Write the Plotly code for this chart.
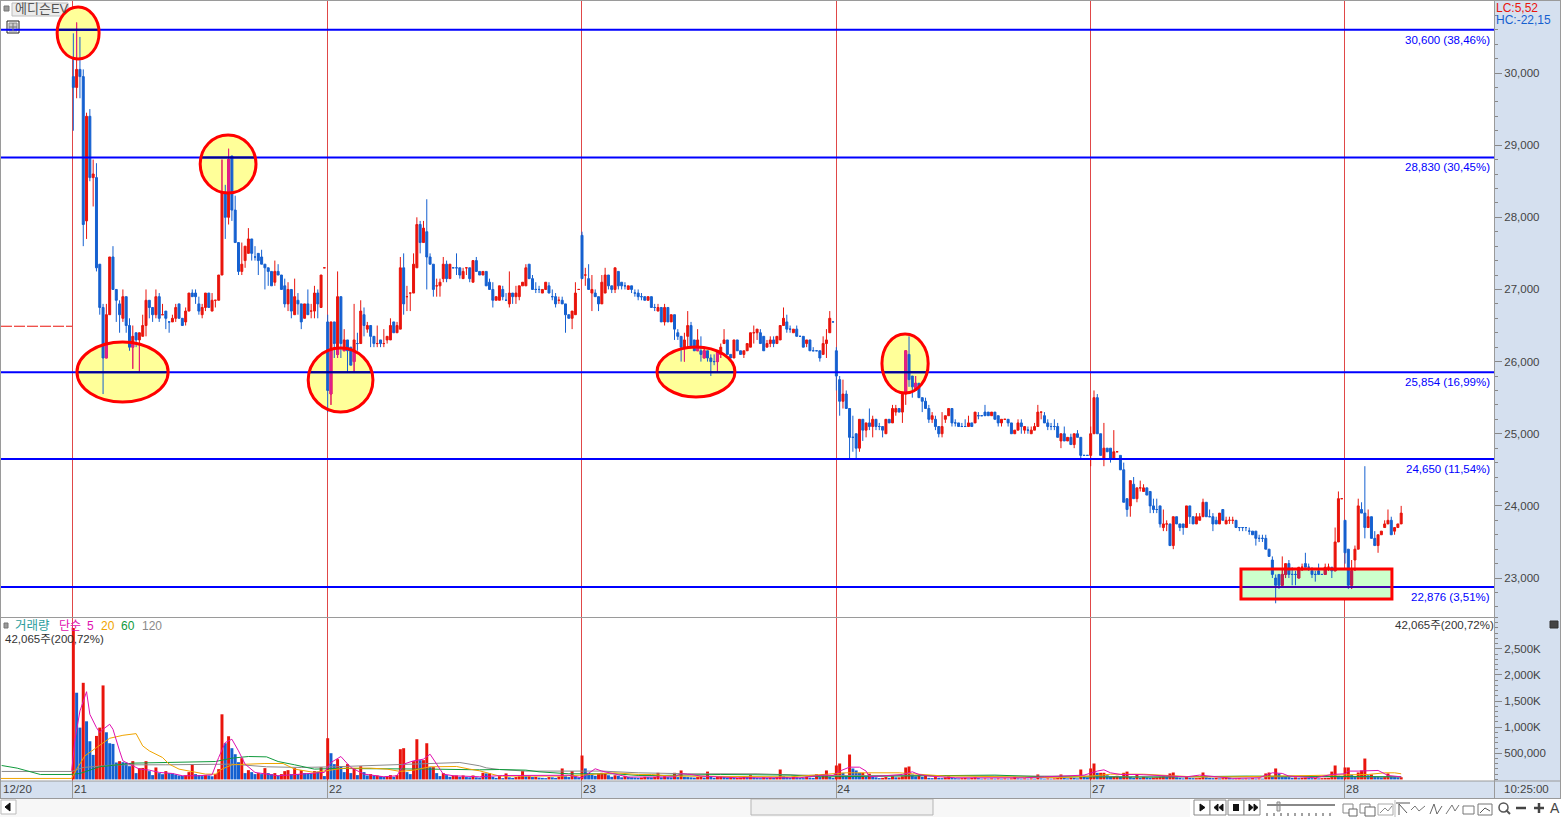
import math
import plotly.graph_objects as go

W, H = 1561, 817

open_ = [
 29950,29800,30050,29950,27950,29400,28550,28550,27350,26750,
 26050,26650,27450,27000,26800,26600,26900,26500,26200,26400,
 26300,26350,26500,26850,26750,26650,26900,26650,26700,26550,
 26550,26600,26800,26600,26550,26700,26950,26950,26800,26650,
 26750,26950,26700,26850,26850,27200,28350,28000,28850,28100,
 27650,27250,27400,27500,27700,27450,27500,27450,27350,27300,
 27250,27100,27250,27200,27050,26800,27000,26650,26850,26800,
 26600,26800,26700,26700,26950,26750,27300,
 26550,25550,26550,26100,26900,26150,26300,26200,26000,26250,
 26250,26650,26450,26500,26350,26250,26300,26250,26300,26300,
 26550,26400,26450,27300,26900,26950,26950,27300,27900,27650,
 27800,27450,27350,27050,27050,27150,27350,27150,27300,27300,
 27300,27150,27300,27300,27100,27400,27250,27200,27250,27100,
 27000,26850,26850,27000,26850,26800,26950,26900,26900,27050,
 27050,27350,27150,27000,27000,26950,27000,27050,26900,26900,
 26850,26850,26800,26650,26600,26650,27000,
 27750,27200,27150,26950,26950,26900,26800,26950,27200,27050,
 27000,27250,27100,27050,27000,27050,26950,26950,26900,26900,
 26850,26900,26750,26700,26750,26550,26750,26550,26650,26400,
 26350,26200,26350,26500,26300,26150,26150,26050,26150,26050,
 26000,26000,26100,26250,26300,26100,26050,26300,26150,26100,
 26150,26200,26400,26400,26400,26350,26200,26250,26300,26250,
 26300,26500,26550,26450,26400,26450,26350,26350,26250,26300,
 26150,26150,26150,26100,26250,26400,26550,
 26150,25750,25450,25550,25350,24950,25000,24800,25200,25050,
 25150,25100,25200,25100,25100,25000,25200,25150,25300,25350,
 25300,25550,26100,25800,25600,25700,25500,25450,25350,25200,
 25200,25100,25000,25200,25250,25350,25150,25150,25100,25100,
 25100,25150,25150,25250,25250,25300,25300,25250,25300,25250,
 25150,25200,25200,25150,25000,25050,25150,25050,25050,25000,
 25050,25100,25300,25250,25150,25100,25100,25100,24900,25000,
 24900,24950,24850,25000,24950,24700,24700,
 24700,25000,25500,25000,24650,24800,24800,24650,24750,24700,
 24500,24100,24000,24300,24100,24250,24200,24250,24200,24000,
 23950,24000,23700,23750,23750,23450,23850,23750,23750,23700,
 24000,23850,23750,23800,23850,24050,23850,23850,23800,23750,
 23950,23750,23800,23800,23800,23700,23700,23700,23650,23650,
 23650,23550,23550,23550,23400,23250,23000,23050,22900,23050,
 23200,23050,23050,23000,23150,23200,23150,23100,23050,23100,
 23050,23050,23150,23150,23100,23500,24100,23800,23400,22900,
 23250,23400,23950,23900,23700,23850,23550,23450,23600,23700,
 23750,23800,23650,23700,23750]

close_ = [
 29800,30050,29950,27900,29400,28550,28600,27300,26750,26050,
 26650,27450,27000,26850,26650,26900,26500,26200,26350,26300,
 26400,26500,26850,26750,26650,26900,26600,26650,26600,26550,
 26600,26750,26600,26500,26700,26950,26900,26900,26700,26750,
 26950,26750,26850,26850,27200,28350,28000,28800,28100,27650,
 27250,27350,27600,27700,27500,27450,27400,27350,27300,27250,
 27050,27250,27200,27000,26800,27000,26700,26900,26800,26550,
 26800,26650,26700,26950,26800,27200,27300,
 25600,26550,26250,26900,26250,26300,26150,25950,26300,26250,
 26700,26500,26500,26350,26250,26250,26250,26250,26350,26500,
 26400,26500,27300,26800,26900,26950,27350,27900,27650,27850,
 27450,27350,27000,27050,27100,27350,27150,27350,27300,27300,
 27200,27250,27300,27150,27400,27250,27200,27250,27050,27000,
 26850,26900,27050,26900,26850,26950,26900,26950,27050,27100,
 27300,27150,27000,27000,27000,27000,27100,26950,26900,26800,
 26850,26800,26650,26600,26700,26950,27000,
 27150,27200,27000,27000,26900,26800,27100,27200,27050,27000,
 27300,27050,27050,27050,27050,27000,26950,26900,26900,26850,
 26900,26750,26750,26750,26550,26750,26550,26650,26450,26350,
 26200,26300,26500,26200,26150,26300,26100,26150,26050,26000,
 26000,26150,26200,26300,26100,26050,26300,26150,26100,26150,
 26250,26400,26400,26450,26250,26150,26250,26300,26250,26350,
 26500,26600,26450,26450,26450,26350,26350,26200,26300,26150,
 26150,26150,26050,26250,26300,26600,26550,
 25800,25450,25550,25350,24950,24950,24800,25200,25050,25150,
 25100,25200,25100,25100,25050,25200,25150,25350,25350,25300,
 25550,26150,25750,25650,25700,25500,25450,25350,25200,25250,
 25100,25000,25100,25250,25350,25150,25150,25100,25100,25100,
 25150,25100,25300,25250,25250,25250,25250,25300,25200,25150,
 25200,25200,25150,25000,25050,25150,25100,25100,25050,25050,
 25100,25300,25300,25150,25100,25100,25100,24950,25000,24900,
 24950,24850,25000,24950,24700,24700,24700,
 25000,25500,25000,24700,24800,24750,24650,24750,24750,24500,
 24050,23950,24350,24100,24250,24250,24250,24150,24000,23950,
 23950,23750,23750,23750,23450,23850,23750,23700,23700,24000,
 23850,23750,23850,23850,24050,23850,23850,23750,23750,23900,
 23800,23800,23800,23800,23700,23700,23700,23700,23650,23600,
 23550,23550,23550,23400,23300,23050,22900,22900,23050,23200,
 23050,23050,23050,23150,23150,23150,23150,23050,23050,23050,
 23050,23150,23150,23100,23500,24100,24100,23350,22900,23100,
 23400,24000,23900,23700,23850,23550,23450,23600,23650,23750,
 23800,23600,23700,23750,23900]

high_ = [
 30550,30700,30500,30050,29450,29500,28800,28750,27350,26800,
 26800,27450,27600,27000,26850,27000,26900,26600,26500,26400,
 26400,26650,27000,26850,26750,27000,26950,26800,26700,26550,
 26650,26800,26800,26600,26750,26950,27000,27000,26900,26800,
 26950,26950,26950,26850,27200,28800,28450,28950,28850,28300,
 27650,27650,27600,27850,27700,27600,27500,27550,27350,27300,
 27250,27400,27350,27200,27150,27100,27000,27150,26950,26800,
 26800,27000,26800,27050,27000,27200,27300,
 26650,26550,26550,27250,26900,26450,26300,26200,26800,26400,
 26850,26750,26550,26500,26350,26500,26300,26450,26350,26600,
 26550,26550,27450,27500,27050,26950,27500,28000,27950,27950,
 28250,27500,27350,27150,27150,27450,27400,27350,27300,27500,
 27300,27300,27300,27300,27400,27450,27250,27250,27250,27150,
 27100,26900,27050,27050,26950,27250,26950,27050,27050,27100,
 27350,27350,27200,27100,27050,27000,27100,27100,27000,26950,
 26900,26900,26800,26650,26700,27100,27000,
 27800,27300,27350,27200,27000,26900,27200,27300,27200,27050,
 27300,27250,27100,27100,27050,27050,27000,27000,26950,26900,
 26900,26900,26800,26800,26750,26800,26750,26650,26650,26450,
 26350,26400,26700,26550,26300,26450,26350,26200,26150,26100,
 26100,26150,26250,26450,26300,26100,26300,26300,26150,26150,
 26250,26400,26500,26450,26450,26350,26300,26350,26350,26350,
 26500,26750,26650,26500,26450,26500,26350,26350,26300,26300,
 26200,26150,26150,26350,26450,26700,26550,
 26200,25800,25750,25600,25350,25250,25000,25200,25200,25150,
 25350,25250,25200,25150,25100,25200,25200,25400,25400,25350,
 25550,26150,26350,25800,25800,25700,25500,25500,25400,25300,
 25250,25100,25300,25250,25350,25350,25200,25150,25150,25200,
 25250,25150,25300,25300,25250,25400,25300,25300,25300,25250,
 25200,25200,25200,25150,25050,25200,25200,25100,25100,25100,
 25150,25400,25300,25300,25200,25150,25200,25150,25000,25100,
 24950,25000,25000,25050,24950,24700,24700,
 25100,25600,25550,25000,25150,24800,24800,25050,24750,24700,
 24600,24100,24350,24400,24250,24350,24300,24250,24200,24100,
 24100,24000,23950,23800,23750,23850,23850,23750,23750,24000,
 24000,23850,23900,23900,24100,24050,23950,23900,23850,23900,
 23950,23850,23850,23850,23800,23700,23700,23700,23700,23650,
 23650,23600,23600,23600,23400,23300,23050,23050,23300,23200,
 23250,23150,23100,23150,23200,23350,23200,23150,23100,23200,
 23050,23200,23200,23150,23700,24200,24100,23800,23400,23250,
 23450,24100,24050,24550,23950,23850,23650,23600,23650,23800,
 23950,23850,23700,23750,24000]

low_ = [
 29200,29650,29650,27600,27700,28500,28150,27250,26650,25550,
 26050,26650,27000,26550,26400,26550,26400,26150,25900,26200,
 25850,26350,26350,26600,26550,26600,26550,26650,26450,26400,
 26550,26550,26600,26500,26500,26700,26900,26800,26650,26600,
 26700,26750,26700,26750,26850,27200,27700,27900,27950,27650,
 27200,27200,27300,27500,27400,27400,27200,27350,27000,27050,
 27050,27050,27200,27000,26750,26700,26600,26650,26650,26450,
 26600,26650,26600,26600,26600,26750,27300,
 25300,25400,26050,26050,26050,26150,25850,25950,25850,26150,
 26250,26350,26400,26200,26200,26200,26200,26200,26250,26300,
 26400,26400,26450,26650,26700,26700,26950,27300,27500,27650,
 27000,27350,26900,26900,26900,27100,27100,27150,27300,27200,
 27150,27150,27200,27100,27100,27250,27200,27200,27050,27000,
 26750,26850,26850,26850,26850,26750,26800,26800,26850,27050,
 27050,27150,27000,26950,26950,26950,27000,26950,26850,26750,
 26800,26800,26400,26600,26450,26650,27000,
 27150,27050,27000,26700,26900,26700,26800,26950,27000,26950,
 26950,27000,27000,27000,27000,26950,26900,26850,26850,26850,
 26850,26750,26700,26700,26550,26500,26550,26550,26300,26300,
 26000,26000,26200,26200,26150,26150,26000,26050,26000,25800,
 25950,25850,26050,26250,26100,26050,26050,26150,26100,26050,
 26150,26200,26250,26300,26250,26150,26200,26200,26200,26250,
 26300,26500,26400,26400,26400,26350,26350,26200,26200,26150,
 26150,26150,26000,26100,26050,26400,26550,
 25600,25250,25350,25350,24650,24750,24650,24750,24900,24950,
 25050,24950,25050,25050,24950,25000,25150,25150,25250,25300,
 25150,25400,25650,25500,25600,25500,25300,25350,25150,25150,
 25050,24950,24950,25150,25250,25100,25100,25100,25100,25100,
 25100,25100,25150,25200,25250,25250,25250,25250,25200,25100,
 25100,25200,25100,25000,25000,25050,25000,25000,25000,25000,
 25050,25100,25200,25150,25050,25050,25050,24950,24800,24900,
 24900,24850,24800,24950,24650,24700,24700,
 24550,25000,25000,24700,24550,24750,24600,24650,24750,24500,
 24050,23850,23850,24100,24050,24200,24200,24150,23900,23900,
 23900,23700,23650,23650,23450,23400,23750,23650,23600,23700,
 23750,23750,23750,23800,23850,23850,23850,23650,23750,23750,
 23800,23750,23750,23750,23700,23650,23650,23650,23600,23600,
 23450,23500,23500,23400,23300,23000,22650,22850,22900,23000,
 23000,22900,22900,23000,23100,23150,23100,23000,22950,23050,
 23050,23050,23100,23000,23100,23500,24100,23200,22850,22850,
 23100,23400,23900,23550,23700,23550,23450,23350,23600,23700,
 23750,23600,23600,23700,23750]

# flat candles drawn red; every other flat candle is blue
flat_red = [27,43,72,76,92,94,101,102,110,119,147,153,155,206,282,293,316,323,331,350,351,372,380,384]

volume_k = [
 2900,1660,992,1850,1113,731,470,833,992,1800,
 903,693,680,324,350,330,320,254,350,121,
 216,220,350,159,83,229,121,100,159,121,
 115,95,76,70,80,140,293,102,83,64,
 83,76,60,102,197,1247,693,827,598,483,
 330,407,121,178,140,102,121,102,216,121,
 102,121,76,102,159,178,102,216,102,178,
 121,115,110,159,150,235,64,
 789,502,293,388,254,140,293,121,216,83,
 254,140,76,102,76,76,64,50,64,83,
 50,83,579,598,140,102,350,770,369,369,
 693,235,235,121,64,121,83,50,76,76,
 50,76,45,40,76,40,35,127,115,115,
 50,30,64,25,115,40,30,45,60,160,
 60,60,45,50,35,30,25,45,40,30,
 55,210,60,45,160,60,40,
 458,210,127,105,70,110,127,127,80,50,
 80,70,40,70,50,40,35,30,35,50,
 45,40,50,127,40,60,45,40,127,45,
 172,50,45,40,35,45,50,35,150,50,
 30,50,60,45,35,40,30,30,35,60,
 45,80,40,30,25,40,30,35,30,45,
 190,60,45,30,50,40,30,25,50,35,
 30,100,45,100,172,50,30,
 267,305,127,60,477,210,172,127,127,50,
 110,60,40,25,30,45,30,60,40,40,
 60,229,248,95,60,70,50,70,30,25,
 45,30,25,40,60,30,25,20,25,30,
 20,30,40,25,15,20,15,20,15,20,
 15,20,15,20,50,20,15,20,15,20,
 15,95,20,15,20,15,20,30,95,30,
 20,35,30,20,190,70,40,
 210,305,127,127,127,80,50,60,70,50,
 127,150,50,30,95,30,50,40,30,35,
 40,50,60,50,115,133,40,30,20,45,
 30,25,25,30,133,40,30,25,30,20,
 25,40,30,15,20,25,15,20,15,25,
 15,20,15,115,133,60,210,115,60,50,
 45,30,40,25,30,35,30,25,30,20,
 25,30,30,150,267,70,50,229,229,90,
 60,133,172,400,80,95,60,50,40,45,
 115,50,45,40,42]

ma5_bar = [-0.5,0.5,2,4,5,7,8,9,11,12,14,15,18,20,23,26,30,33,38,42,44,46,48,50,52,55,62,69,76,78,81,84,88,94,98,100,103,106,108,110,112,115,123,130,150,154,157,158,160,164,168,182,184,187,190,201,211,220,227,230,232,235,238,240,241,251,254,256,259,267,288,306,310,312,314,317,322,331,337,341,351,359,363,366,368,376,381,385,386,389,395,398,402]
ma5_val = [165,770,1310,1680,1247,992,897,960,1056,960,547,356,261,197,178,134,114,70,70,89,420,706,770,547,293,134,70,102,134,324,439,229,102,51,70,293,356,388,483,293,102,70,51,75,80,32,172,204,160,108,45,50,110,95,64,32,32,32,83,76,160,235,235,160,50,95,146,95,64,32,32,83,160,184,127,95,95,64,50,83,20,32,127,115,64,32,95,108,160,160,172,76,50]
ma20_bar = [-22,-0.5,1,3.5,7,11,15,19,21,23,27,29,32,36,40,43,45,48,53,58,63.5,67,73,77,82,90,95,99,103,108,116,120,123,129,148,154,164,171,175,181,190,211,217,234,250,254,264,270,298,308,314,324,328,339,352,363,392,397,400,402]
ma20_val = [19,19,197,451,610,788,845,877,642,547,420,293,197,153,102,102,197,280,293,305,305,197,134,165,216,216,197,153,178,242,248,197,165,64,64,83,127,95,95,64,64,50,50,127,127,108,64,64,32,64,100,100,83,50,50,64,95,127,127,108]
ma60_bar = [-21.7,-17,-10,-1,2,8,18,28,32,43,48,53,58.5,62,67,73,79,99,109,123,129,137,141,150,164,171,177,196,207,217,227,257,269,279,294,308,318,327,355,363,369,402]
ma60_val = [267,216,95,95,114,242,312,324,343,343,407,439,432,343,280,197,210,210,197,184,190,178,146,108,108,76,76,95,95,83,50,76,83,83,50,50,45,45,64,64,50,50]
ma120_bar = [-21.7,-0.5,3,13,28,48,58.5,69,79,89,99,107,117,123,125,129,137,160,171,186,207,220,227,257,277,308,320,402]
ma120_val = [153,153,229,280,280,293,242,229,242,261,293,299,324,261,222,190,160,160,127,108,108,83,76,76,64,64,50,50]

price_ticks = [23000,24000,25000,26000,27000,28000,29000,30000]
volume_ticks = [500,1000,1500,2000,2500]
volume_tick_text = ["500,000","1,000K","1,500K","2,000K","2,500K"]
day_bars = [0,77,154,231,308,385]
day_labels = ["21","22","23","24","27","28"]
level_prices = [30600,28830,25854,24650,22876]
level_labels = ["30,600 (38,46%)","28,830 (30,45%)","25,854 (16,99%)","24,650 (11,54%)","22,876 (3,51%)"]
prev_close = 26490
# highlight zones: first bar, last bar, low price, high price
ellipses = [(-4.9,7.8,30194,30915),(38.4,55.3,28337,29141),(1.1,28.7,25440,26272),
            (71.1,90.7,25301,26188),(176.7,200.3,25510,26202),(244.8,258.8,25565,26383)]
box_zone = (353.5,399.2,22709,23125)

RED, BLUE = "#e9140c", "#1560d0"
PINK, CRIM = "#e0208a", "#c02050"
FONT = "Liberation Sans, Noto Sans CJK KR"
FS = 11.5
TXT = "#444444"
PANEL = "#d5e0ef"
EDGE = "#9a9a9a"
X0, X1 = -21.9, 430.1
day_line_px = [72.5, 327.5, 581.5, 836.5, 1090.5, 1344.5]


def px(x):
    return x / W


def py(y):
    return 1 - y / H


n = len(close_)
bars = list(range(n))
is_red = [close_[i] > open_[i] or (close_[i] == open_[i] and i in flat_red) for i in bars]


def candles(idx, o, h, l, c, color):
    return go.Candlestick(
        x=idx, open=o, high=h, low=l, close=c, xaxis="x", yaxis="y", whiskerwidth=0,
        increasing=dict(line=dict(color=color, width=1), fillcolor=color),
        decreasing=dict(line=dict(color=color, width=1), fillcolor=color),
        hoverinfo="skip", showlegend=False)


fig = go.Figure()
for flag, color in ((True, RED), (False, BLUE)):
    idx = [i for i in bars if is_red[i] == flag]
    fig.add_trace(candles(idx, [open_[i] for i in idx], [high_[i] for i in idx],
                          [low_[i] for i in idx], [close_[i] for i in idx], color))

# Red candles seen through the highlight zones change tint: redraw only the part inside
clip_i, clip_o, clip_h, clip_l, clip_c = [], [], [], [], []
for (a0, a1, p0, p1) in ellipses:
    ic, ia = (a0 + a1) / 2, (a1 - a0) / 2
    pc, pb = (p0 + p1) / 2, (p1 - p0) / 2
    for i in bars:
        if is_red[i] and a0 < i < a1:
            half = pb * math.sqrt(1 - ((i - ic) / ia) ** 2)
            lo, hi = pc - half, pc + half
            hh, ll = min(high_[i], hi), max(low_[i], lo)
            if hh <= ll:
                continue
            clip_i.append(i)
            clip_o.append(min(max(open_[i], lo), hi))
            clip_c.append(min(max(close_[i], lo), hi))
            clip_h.append(hh)
            clip_l.append(ll)
fig.add_trace(candles(clip_i, clip_o, clip_h, clip_l, clip_c, PINK))
box_i = [i for i in bars if is_red[i] and box_zone[0] < i < box_zone[1] and low_[i] < box_zone[3]]
fig.add_trace(candles(box_i,
                      [min(max(open_[i], box_zone[2]), box_zone[3]) for i in box_i],
                      [min(high_[i], box_zone[3]) for i in box_i],
                      [max(low_[i], box_zone[2]) for i in box_i],
                      [min(max(close_[i], box_zone[2]), box_zone[3]) for i in box_i], CRIM))

fig.add_trace(go.Scatter(x=[X0, -0.4], y=[prev_close, prev_close], mode="lines", xaxis="x", yaxis="y",
                         line=dict(color=RED, width=1, dash="11px,2px"), hoverinfo="skip", showlegend=False))

vol_colors = [RED if i == 0 or volume_k[i] >= volume_k[i - 1] else BLUE for i in bars]
fig.add_trace(go.Bar(x=bars, y=volume_k, width=0.9, marker=dict(color=vol_colors, line=dict(width=0)),
                     xaxis="x2", yaxis="y2", hoverinfo="skip", showlegend=False))
for bx, vy, col in ((ma120_bar, ma120_val, "#8a8a8a"), (ma60_bar, ma60_val, "#109a3c"),
                    (ma20_bar, ma20_val, "#f0a400"), (ma5_bar, ma5_val, "#e010b0")):
    fig.add_trace(go.Scatter(x=bx, y=vy, mode="lines", xaxis="x2", yaxis="y2",
                             line=dict(color=col, width=1), hoverinfo="skip", showlegend=False))

shapes = []


def prect(x0, y0, x1, y1, fill, line=None, lw=1, layer="below"):
    shapes.append(dict(type="rect", xref="paper", yref="paper", x0=px(x0), x1=px(x1), y0=py(y0), y1=py(y1),
                       fillcolor=fill, line=dict(color=line or fill, width=lw if line else 0), layer=layer))


def pline(x0, y0, x1, y1, color=EDGE, lw=1, layer="above"):
    shapes.append(dict(type="line", xref="paper", yref="paper", x0=px(x0), x1=px(x1), y0=py(y0), y1=py(y1),
                       line=dict(color=color, width=lw), layer=layer))


def ppath(points, color="#555555", lw=1, fill=None):
    d = "M" + "L".join(f"{px(a):.5f},{py(b):.5f}" for a, b in points)
    if fill:
        d += "Z"
    shapes.append(dict(type="path", xref="paper", yref="paper", path=d, layer="above",
                       line=dict(color=color, width=lw), fillcolor=fill or "rgba(0,0,0,0)"))


# window chrome
prect(1494, 0, W, 798, PANEL)
prect(0, 781, W, 798, PANEL)
prect(0, 798, W, H, "#f7f7f7")
prect(1190, 799, W, H, "#ffffff")
pline(0, 0.5, W, 0.5)
pline(0.5, 0, 0.5, 798)
pline(0, 617.5, 1494, 617.5)
pline(0, 781, W, 781)
pline(0, 798.5, W, 798.5)
pline(1494.5, 0, 1494.5, 798)
pline(1560.5, 0, 1560.5, 798)

# highlight fills
for (a0, a1, p0, p1) in ellipses:
    shapes.append(dict(type="circle", xref="x", yref="y", x0=a0, x1=a1, y0=p0, y1=p1,
                       fillcolor="#ffff99", line=dict(width=0), layer="below"))
shapes.append(dict(type="rect", xref="x", yref="y", x0=box_zone[0], x1=box_zone[1], y0=box_zone[2], y1=box_zone[3],
                   fillcolor="#ccffcc", line=dict(width=0), layer="below"))

# day separators
for lx in day_line_px:
    pline(lx, 1, lx, 781, "#e04848", 1, "below")
    pline(lx, 781, lx, 798, EDGE, 1, "above")

# retracement levels, with their tinted stretch through each zone
for lv in level_prices:
    shapes.append(dict(type="line", xref="x", yref="y", x0=X0, x1=X1, y0=lv, y1=lv,
                       line=dict(color="#0000ff", width=2), layer="above"))
    for (a0, a1, p0, p1) in ellipses:
        if p0 < lv < p1:
            ic, ia, pc, pb = (a0 + a1) / 2, (a1 - a0) / 2, (p0 + p1) / 2, (p1 - p0) / 2
            half = ia * math.sqrt(1 - ((lv - pc) / pb) ** 2)
            shapes.append(dict(type="line", xref="x", yref="y", x0=ic - half, x1=ic + half, y0=lv, y1=lv,
                               line=dict(color="#000090", width=2), layer="above"))
    if box_zone[2] < lv < box_zone[3]:
        shapes.append(dict(type="line", xref="x", yref="y", x0=box_zone[0], x1=box_zone[1], y0=lv, y1=lv,
                           line=dict(color="#4000b0", width=2), layer="above"))

# highlight outlines
for (a0, a1, p0, p1) in ellipses:
    shapes.append(dict(type="circle", xref="x", yref="y", x0=a0, x1=a1, y0=p0, y1=p1,
                       fillcolor="rgba(0,0,0,0)", line=dict(color="#ff0000", width=3), layer="above"))
shapes.append(dict(type="rect", xref="x", yref="y", x0=box_zone[0], x1=box_zone[1], y0=box_zone[2], y1=box_zone[3],
                   fillcolor="rgba(0,0,0,0)", line=dict(color="#ff0000", width=3), layer="above"))

# title box and little icons
prect(12, 3, 68, 16, "#ececec", "#bdbdbd")
prect(4, 6, 9, 11, "#9a9a9a", "#777777")
prect(7, 21, 19, 33, "#ffffff", "#222222")
prect(9, 23, 17, 31, "#cccccc", "#888888")
pline(13, 23, 13, 31, "#777777")
pline(9, 27, 17, 27, "#777777")
prect(4, 623, 8, 628, "#9a9a9a", "#777777")
prect(1550, 621, 1558, 628, "#444444", "#333333")

# toolbar
prect(1, 800, 16, 814, "#ffffff", "#bbbbbb")
ppath([(10, 803), (10, 811), (5, 807)], "#111111", 1, "#111111")
prect(751, 799, 933, 815, "#f0f0f0", "#b5b5b5")
for xc in (1202, 1218, 1236, 1252):
    prect(xc - 8, 800, xc + 8, 815, "#ffffff", "#8a8a8a")
ppath([(1200, 804), (1200, 811), (1205, 807.5)], "#111111", 1, "#111111")
ppath([(1218, 804), (1218, 811), (1214, 807.5)], "#111111", 1, "#111111")
ppath([(1223, 804), (1223, 811), (1219, 807.5)], "#111111", 1, "#111111")
prect(1233, 804, 1239, 811, "#111111")
ppath([(1249, 804), (1249, 811), (1253, 807.5)], "#111111", 1, "#111111")
ppath([(1254, 804), (1254, 811), (1258, 807.5)], "#111111", 1, "#111111")
pline(1267, 805, 1335, 805, "#888888", 2)
prect(1277, 802, 1280, 811, "#dddddd", "#888888")
for tx in range(1267, 1337, 7):
    pline(tx, 813, tx, 816, "#444444")
prect(1343, 804, 1353, 813, "#ffffff", "#888888")
prect(1349, 809, 1357, 816, "#ffffff", "#666666")
prect(1360, 804, 1370, 813, "#ffffff", "#888888")
prect(1365, 807, 1375, 816, "#ffffff", "#666666")
prect(1378, 804, 1393, 815, "#ffffff", "#aaaaaa")
ppath([(1380, 813), (1385, 808), (1388, 811), (1392, 806)], "#888888")
pline(1395, 800, 1395, 817, "#bbbbbb")
pline(1396, 803, 1410, 803, "#555555")
ppath([(1399, 815), (1399, 804), (1407, 813)], "#555555")
ppath([(1411, 810), (1415, 806), (1419, 811), (1425, 806)], "#777777")
ppath([(1430, 814), (1434, 804), (1437, 814), (1442, 806)], "#666666")
ppath([(1446, 814), (1452, 805), (1455, 811), (1459, 805)], "#777777")
prect(1463, 806, 1474, 814, "#ffffff", "#777777")
prect(1478, 804, 1492, 815, "#ffffff", "#777777")
ppath([(1480, 813), (1485, 808), (1490, 811)], "#555555")
shapes.append(dict(type="circle", xref="paper", yref="paper", x0=px(1499), x1=px(1508), y0=py(812), y1=py(803),
                   line=dict(color="#555555", width=1.5), fillcolor="rgba(0,0,0,0)", layer="above"))
pline(1506, 810, 1510, 814, "#555555", 2)
pline(1516, 808, 1526, 808, "#444444", 2.5)
pline(1534, 808, 1544, 808, "#444444", 2.5)
pline(1539, 803, 1539, 813, "#444444", 2.5)

ann = []


def text(x, y, s, color=TXT, anchor="left", size=FS):
    shift = {"left": -2, "right": 2, "center": 0}[anchor]
    ann.append(dict(xref="paper", yref="paper", x=px(x + shift), y=py(y), text=s, showarrow=False, xanchor=anchor,
                    yanchor="middle", font=dict(family=FONT, size=size, color=color)))


text(15, 9, "에디슨EV", "#555555", size=13)
text(1496, 8, "LC:5,52", "#e9140c", size=12)
text(1496, 20, "HC:-22,15", "#1560d0", size=12)
text(15, 626, "거래량", "#2a9d9d", size=12.5)
text(59, 626, "단순", "#e010b0", size=12)
text(87, 626, "5", "#e010b0", size=12)
text(101, 626, "20", "#f0a400", size=12)
text(121, 626, "60", "#109a3c", size=12)
text(142, 626, "120", "#8a8a8a", size=12)
text(5, 639, "42,065주(200,72%)", "#333333")
text(1494, 625, "42,065주(200,72%)", "#333333", "right")
text(3, 789, "12/20")
text(1504, 789, "10:25:00")
for d, s in zip(day_bars, day_labels):
    ann.append(dict(xref="x", yref="paper", x=d, y=py(789), text=s, showarrow=False, xanchor="left", xshift=-1,
                    yanchor="middle", font=dict(family=FONT, size=FS, color=TXT)))
for lv, s in zip(level_prices, level_labels):
    ann.append(dict(xref="paper", yref="y", x=px(1492), y=lv, yshift=-10, text=s, showarrow=False, xanchor="right",
                    yanchor="middle", font=dict(family=FONT, size=FS, color="#0000ff")))
text(1555, 808, "A", "#444444", "center", 14)

axis_common = dict(showgrid=False, zeroline=False, showline=False, fixedrange=True)
fig.update_layout(
    width=W, height=H, autosize=False,
    margin=dict(l=0, r=0, t=0, b=0, pad=0),
    paper_bgcolor="#ffffff", plot_bgcolor="#ffffff",
    showlegend=False, barmode="overlay", dragmode=False, boxgap=0.4, boxgroupgap=0,
    shapes=shapes, annotations=ann,
    xaxis=dict(domain=[px(1), px(1494)], range=[X0, X1], anchor="y", showticklabels=False, ticks="",
               rangeslider=dict(visible=False), **axis_common),
    xaxis2=dict(domain=[px(1), px(1494)], range=[X0, X1], anchor="y2", showticklabels=False, ticks="", **axis_common),
    yaxis=dict(domain=[py(617), py(1)], range=[22460, 30998], side="right", anchor="x",
               tickmode="array", tickvals=price_ticks, ticktext=[f"{v:,}" for v in price_ticks],
               ticks="outside", ticklen=7, tickwidth=1, tickcolor="#888888",
               tickfont=dict(family=FONT, size=FS, color=TXT),
               minor=dict(dtick=200, ticks="outside", ticklen=3, tickcolor="#888888", tick0=0),
               **axis_common),
    yaxis2=dict(domain=[py(781), py(617)], range=[-30, 3110], side="right", anchor="x2",
                tickmode="array", tickvals=volume_ticks, ticktext=volume_tick_text,
                ticks="outside", ticklen=7, tickwidth=1, tickcolor="#888888",
                tickfont=dict(family=FONT, size=FS, color=TXT),
                minor=dict(dtick=100, ticks="outside", ticklen=3, tickcolor="#888888", tick0=0),
                **axis_common),
)

fig.write_html("out.html", config=dict(displayModeBar=False, staticPlot=True),
               post_script="document.body.style.margin='0';document.body.style.overflow='hidden';")
